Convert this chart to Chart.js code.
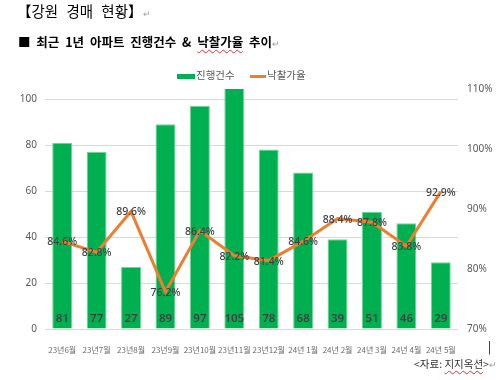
<!DOCTYPE html>
<html>
<head>
<meta charset="utf-8">
<script src="https://cdn.jsdelivr.net/npm/chart.js@4.4.1/dist/chart.umd.min.js"></script>
<style>
  html, body { margin: 0; padding: 0; background: #fff; }
  body { width: 500px; height: 380px; position: relative; overflow: hidden;
         font-family: "Noto Sans CJK KR", "Noto Sans", sans-serif; }
  #wrap { position: absolute; left: 0; top: 0; width: 500px; height: 380px; }
  .t { position: absolute; white-space: nowrap; line-height: 1; }
  .pm { color: #a0a0a0; font-size: 9px; font-weight: normal; }
  .wavy { text-decoration: underline wavy #e03030; text-decoration-thickness: 1px; text-underline-offset: 2px; }
</style>
</head>
<body>
<div id="wrap"><canvas id="c" width="500" height="380"></canvas></div>
<div class="t" style="left:17px; top:4px; font-size:14.5px; word-spacing:5px; color:#000;">【강원 경매 현황】<span class="pm">↵</span></div>
<div class="t" style="left:18px; top:36px; font-size:12.5px; font-weight:bold; word-spacing:3px; color:#000;">■ 최근 1년 아파트 진행건수 &amp; <span class="wavy">낙찰가율</span> 추이<span class="pm">↵</span></div>
<div style="position:absolute; left:177px; top:74px; width:18px; height:5px; background:#00B050;"></div>
<div class="t" style="left:196px; top:70px; font-size:10.5px; color:#595959;">진행건수</div>
<div style="position:absolute; left:250px; top:75px; width:16px; height:3px; background:#ED7D31;"></div>
<div class="t" style="left:267px; top:70px; font-size:10.5px; color:#595959;">낙찰가율</div>
<div class="t" style="left:488px; top:340px; font-size:12px; color:#000;">|</div>
<div class="t" style="left:414px; top:359px; font-size:10.5px; color:#333;">&lt;자료: <span class="wavy">지지옥션</span>&gt;<span class="pm">↵</span></div>
<script>
const categories = ['23년6월','23년7월','23년8월','23년9월','23년10월','23년11월','23년12월','24년 1월','24년 2월','24년 3월','24년 4월','24년 5월'];
const cases = [81, 77, 27, 89, 97, 105, 78, 68, 39, 51, 46, 29];
const rates = [84.6, 82.8, 89.6, 76.2, 86.4, 82.2, 81.4, 84.6, 88.4, 87.8, 83.8, 92.9];
const leftTicks = [0, 20, 40, 60, 80, 100];
const rightTicks = [70, 80, 90, 100, 110];

const labelPlugin = {
  id: 'valueLabels',
  afterDatasetsDraw(chart) {
    const ctx = chart.ctx;
    ctx.save();
    const barMeta = chart.getDatasetMeta(1);
    ctx.fillStyle = '#404040';
    ctx.textAlign = 'center';
    ctx.textBaseline = 'middle';
    ctx.font = '600 11.5px "Noto Sans", sans-serif';
    barMeta.data.forEach((el, i) => {
      ctx.fillText(String(cases[i]), el.x, el.base - 10);
    });
    const lineMeta = chart.getDatasetMeta(0);
    ctx.font = '500 10.5px "Noto Sans", sans-serif';
    lineMeta.data.forEach((el, i) => {
      ctx.fillText(rates[i].toFixed(1) + '%', el.x, el.y + 1);
    });
    ctx.restore();
  }
};

new Chart(document.getElementById('c'), {
  data: {
    labels: categories,
    datasets: [
      {
        type: 'line', label: '낙찰가율', data: rates, yAxisID: 'y1',
        borderColor: '#ED7D31', backgroundColor: '#ED7D31', borderWidth: 3,
        pointRadius: 0, tension: 0, order: 0
      },
      {
        type: 'bar', label: '진행건수', data: cases, yAxisID: 'y',
        backgroundColor: '#00B050', borderColor: '#6fd596', borderWidth: 1,
        categoryPercentage: 1, barPercentage: 0.58, order: 1
      }
    ]
  },
  options: {
    responsive: false, animation: false, maintainAspectRatio: false,
    layout: { padding: { top: 89, left: 0, right: 0, bottom: 0 } },
    plugins: { legend: { display: false }, tooltip: { enabled: false } },
    scales: {
      x: {
        grid: { display: false }, border: { display: false },
        ticks: { color: '#6a6a6a', font: { size: 8, family: '"Liberation Sans Narrow", "Noto Sans CJK KR", sans-serif' }, padding: 8, maxRotation: 0, autoSkip: false },
        afterFit(s) { s.height = 51; }
      },
      y: {
        position: 'left', min: 0, max: 104.35,
        grid: { color: '#d9d9d9', drawTicks: false }, border: { display: false },
        ticks: { stepSize: 20, color: '#595959', font: { size: 10, family: '"Noto Sans", sans-serif' }, padding: 8 },
        afterBuildTicks(s) { s.ticks = leftTicks.map(v => ({ value: v })); },
        afterFit(s) { s.width = 45; }
      },
      y1: {
        position: 'right', min: 70, max: 110,
        grid: { display: false, drawTicks: false }, border: { display: false },
        ticks: { stepSize: 10, color: '#595959', font: { size: 10, family: '"Noto Sans", sans-serif' }, padding: 9,
                 callback: v => v + '%' },
        afterBuildTicks(s) { s.ticks = rightTicks.map(v => ({ value: v })); },
        afterFit(s) { s.width = 42; }
      }
    }
  },
  plugins: [labelPlugin]
});
</script>
</body>
</html>
